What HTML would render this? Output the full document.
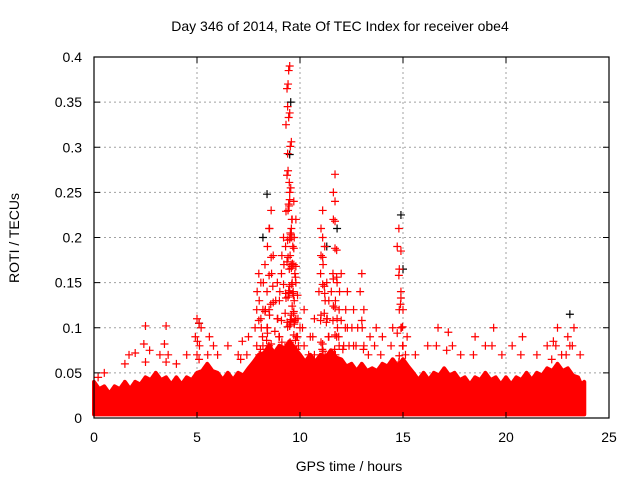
<!DOCTYPE html>
<html><head><meta charset="utf-8"><style>
body{margin:0;background:#fff}
svg{display:block;font-family:"Liberation Sans",sans-serif}
</style></head><body>
<svg id="chart" width="640" height="480">
<rect width="640" height="480" fill="#fff"/>
<g id="grid"></g>
<g id="band"></g>
<g id="pts"></g>
<g id="frame"></g>
<text x="340" y="31" font-size="14" text-anchor="middle">Day 346 of 2014, Rate Of TEC Index for receiver obe4</text>
<text x="349" y="471" font-size="14" text-anchor="middle">GPS time / hours</text>
<text transform="translate(19,238) rotate(-90)" font-size="14" text-anchor="middle">ROTI / TECUs</text>
</svg>
<script>
const xTicks=[0,5,10,15,20,25];
const yTicks=[0,0.05,0.1,0.15,0.2,0.25,0.3,0.35,0.4];
const yTickLabels=["0","0.05","0.1","0.15","0.2","0.25","0.3","0.35","0.4"];
const bandHours=[0,0.5,1,1.5,2,2.5,3,3.5,4,4.5,5,5.5,6,6.5,7,7.5,8,8.5,9,9.5,10,10.5,11,11.5,12,12.5,13,13.5,14,14.5,15,15.5,16,16.5,17,17.5,18,18.5,19,19.5,20,20.5,21,21.5,22,22.5,23,23.5,23.8];
const bandTop=[0.04,0.035,0.035,0.04,0.04,0.045,0.05,0.045,0.045,0.045,0.05,0.06,0.05,0.05,0.05,0.055,0.07,0.08,0.08,0.085,0.07,0.07,0.07,0.075,0.065,0.06,0.06,0.055,0.06,0.065,0.065,0.05,0.05,0.05,0.055,0.05,0.045,0.045,0.05,0.045,0.045,0.045,0.05,0.05,0.055,0.06,0.055,0.045,0.04];
const bandBottom=0.004;
const redH=[0.2,0.5,1.5,1.7,2.0,2.5,2.7,3.2,3.5,3.6,4.0,4.5,5.0,5.1,5.2,5.6,5.8,6.0,6.5,7.0,7.2,7.5,7.9,8.0,8.1,8.2,8.3,8.4,8.5,8.5,8.6,8.7,8.9,9.0,9.1,9.2,9.3,9.4,9.45,9.5,9.5,9.55,9.6,9.6,9.65,9.7,9.7,9.75,9.8,9.8,9.9,10.0,10.2,10.5,10.7,11.0,11.1,11.1,11.2,11.3,11.4,11.6,11.7,11.7,11.8,11.9,12.0,12.2,12.3,12.6,12.8,13.0,13.1,13.4,13.7,14.0,14.5,14.8,14.9,14.9,15.0,15.2,15.6,16.2,16.7,17.2,17.4,17.8,18.5,19.0,19.4,19.8,20.3,20.8,21.5,22.0,22.3,22.5,22.7,23.0,23.1,23.3,23.6];
const redV=[0.045,0.05,0.06,0.07,0.072,0.102,0.075,0.07,0.102,0.07,0.06,0.07,0.11,0.105,0.1,0.09,0.08,0.07,0.08,0.07,0.085,0.09,0.12,0.16,0.15,0.12,0.17,0.14,0.12,0.21,0.23,0.18,0.15,0.13,0.16,0.2,0.19,0.345,0.385,0.39,0.25,0.255,0.22,0.2,0.19,0.17,0.24,0.16,0.22,0.15,0.11,0.1,0.12,0.09,0.11,0.16,0.23,0.2,0.19,0.15,0.13,0.16,0.27,0.24,0.15,0.12,0.16,0.1,0.14,0.12,0.1,0.16,0.12,0.09,0.1,0.09,0.1,0.21,0.185,0.14,0.12,0.09,0.07,0.08,0.1,0.095,0.08,0.07,0.09,0.08,0.1,0.07,0.08,0.09,0.07,0.08,0.085,0.1,0.07,0.09,0.08,0.1,0.07];
const blackH=[8.2,8.4,9.5,9.55,11.3,11.8,14.9,15.0,23.1,5.1];
const blackV=[0.2,0.248,0.292,0.35,0.19,0.21,0.225,0.165,0.115,0.105];
const X0=94,X1=609,Y0=418,Y1=57;
const xs=h=>X0+(h-0)/(25-0)*(X1-X0);
const ys=v=>Y0-(v-0)/(0.4-0)*(Y0-Y1);
const NS='http://www.w3.org/2000/svg';
function mk(tag,attrs,parent){const e=document.createElementNS(NS,tag);for(const k in attrs)e.setAttribute(k,attrs[k]);parent.appendChild(e);return e;}
const grid=document.getElementById('grid'),frame=document.getElementById('frame');
yTicks.forEach((t,i)=>{const y=ys(t);
 if(i>0&&i<yTicks.length-1){const l=mk('line',{x1:X0,x2:X1,y1:y,y2:y,stroke:'#a0a0a0','stroke-dasharray':'2,3'},grid);
 
 }
 const tk=mk('path',{d:`M${X0},${y}h6M${X1},${y}h-6`,stroke:'#000'},frame);
 
 
 const tx=mk('text',{x:X0-12,y:y+5,'font-size':14,'text-anchor':'end'},frame);tx.textContent=yTickLabels[i];
 
 });
xTicks.forEach((t,i)=>{const x=xs(t);
 if(i>0&&i<xTicks.length-1){const l=mk('line',{x1:x,x2:x,y1:Y1,y2:Y0,stroke:'#a0a0a0','stroke-dasharray':'2,3'},grid);
 
 }
 const tk=mk('path',{d:`M${x},${Y0}v-6M${x},${Y1}v6`,stroke:'#000'},frame);
 
 
 const tx=mk('text',{x:x,y:Y0+24,'font-size':14,'text-anchor':'middle'},frame);tx.textContent=String(t);
 
 });
const fr=mk('rect',{x:X0,y:Y1,width:X1-X0,height:Y0-Y1,fill:'none',stroke:'#000','stroke-width':1.2},frame);


const band=document.getElementById('band');
let d='';
for(let i=0;i<bandHours.length-1;i++){
 const xa=xs(bandHours[i]),xb=xs(bandHours[i+1]);
 d+=`M${xa},${ys(bandBottom)}L${xa},${ys(bandTop[i])}L${(xa+xb)/2},${ys(Math.max(bandTop[i],bandTop[i+1])-0.008)}L${xb},${ys(bandTop[i+1])}L${xb},${ys(bandBottom)}Z`;
}
const bp=mk('path',{d:d,fill:'#ff0000',stroke:'#ff0000','stroke-width':4,'stroke-linejoin':'round'},band);


const pts=document.getElementById('pts');
function plus(h,v,c,name){const x=xs(h),y=ys(v);
 const p=mk('path',{d:`M${x-4},${y}h8M${x},${y-4}v8`,stroke:c,'stroke-width':1.2},pts);
 
 }
blackH.forEach((h,i)=>plus(h,blackV[i],'#000','roti-point-black'));
redH.forEach((h,i)=>{plus(h,redV[i],'#ff0000','roti-point');
 const top=redV[i];let v=top-0.02;let k=0;
 while(v>0.06){plus(h+(k%3-1)*0.08,v,'#ff0000','roti-point');v-=0.02+(top>0.15?0.012:0);k++;}
});
</script>
</body></html>
